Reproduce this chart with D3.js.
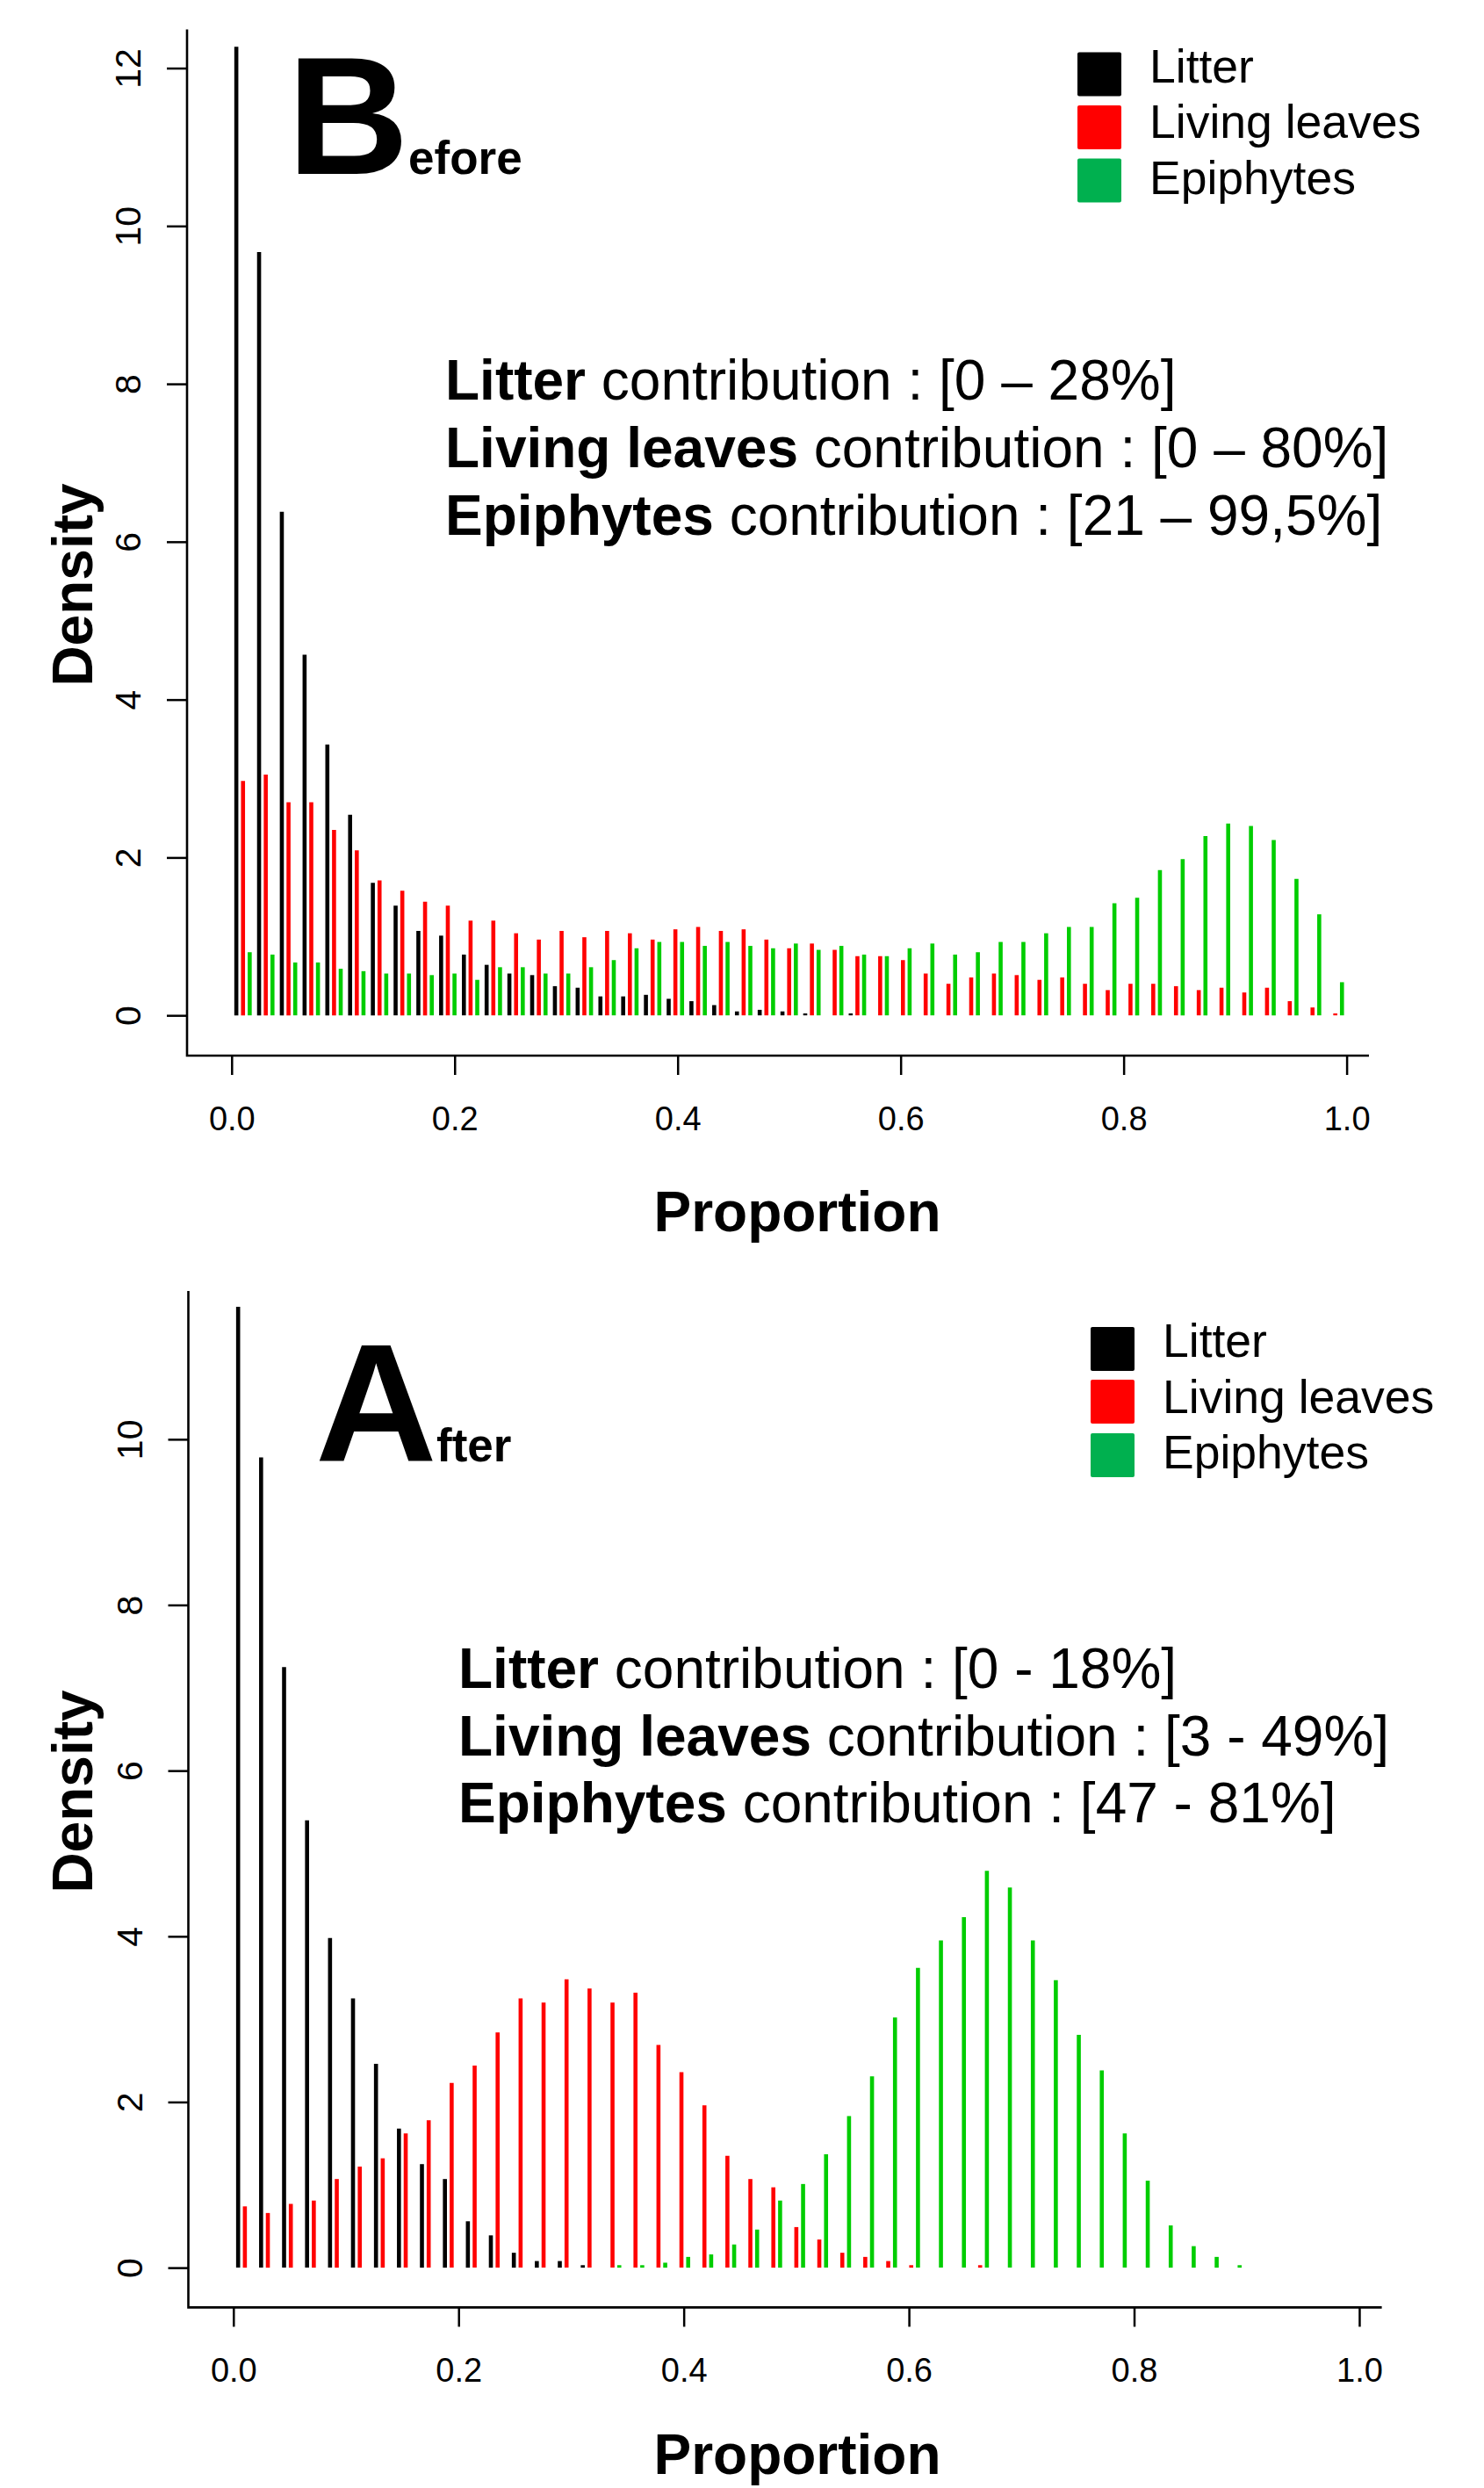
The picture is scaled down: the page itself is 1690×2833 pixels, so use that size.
<!DOCTYPE html>
<html>
<head>
<meta charset="utf-8">
<script src="https://cdn.jsdelivr.net/npm/d3@7"></script>
<style>
    html, body { margin: 0; padding: 0; background: #fff; }
    svg { display: block; font-family: "Liberation Sans", Arial, Helvetica, sans-serif; }
</style>
</head>
<body>
<div id="chart"></div>
<script>
    "use strict";

    // 49 classes de proportion entre 0 et 1
    var binCount = 49;
    var xTickValues = [0, 0.2, 0.4, 0.6, 0.8, 1.0];
    var xTickLabels = ['0.0', '0.2', '0.4', '0.6', '0.8', '1.0'];
    var yTicksBefore = [0, 2, 4, 6, 8, 10, 12];
    var yTicksAfter = [0, 2, 4, 6, 8, 10];

    var seriesNames = ['Litter', 'Living leaves', 'Epiphytes'];

    // Before
    var litterBefore = [12.27, 9.67, 6.38, 4.57, 3.43, 2.54, 1.68, 1.39, 1.07, 1.01,
        0.77, 0.64, 0.53, 0.51, 0.37, 0.35, 0.24, 0.24, 0.26, 0.21,
        0.18, 0.13, 0.05, 0.07, 0.05, 0.025, 0, 0.025, 0, 0,
        0, 0, 0, 0, 0, 0, 0, 0, 0, 0,
        0, 0, 0, 0, 0, 0, 0, 0, 0];
    var leavesBefore = [2.97, 3.05, 2.70, 2.70, 2.35, 2.09, 1.71, 1.58, 1.44, 1.39,
        1.20, 1.20, 1.04, 0.96, 1.07, 0.99, 1.07, 1.04, 0.96, 1.09,
        1.12, 1.07, 1.09, 0.96, 0.85, 0.91, 0.83, 0.75, 0.75, 0.70,
        0.53, 0.40, 0.48, 0.53, 0.51, 0.45, 0.48, 0.40, 0.32, 0.40,
        0.40, 0.37, 0.32, 0.35, 0.29, 0.35, 0.18, 0.10, 0.025];
    var epiBefore = [0.80, 0.77, 0.67, 0.67, 0.59, 0.56, 0.53, 0.53, 0.51, 0.53,
        0.45, 0.61, 0.61, 0.53, 0.53, 0.61, 0.70, 0.85, 0.93, 0.93,
        0.88, 0.93, 0.88, 0.85, 0.91, 0.83, 0.88, 0.77, 0.75, 0.85,
        0.91, 0.77, 0.80, 0.93, 0.93, 1.04, 1.12, 1.12, 1.42, 1.49,
        1.84, 1.98, 2.27, 2.43, 2.40, 2.22, 1.73, 1.28, 0.42];

    // After
    var litterAfter = [11.6, 9.78, 7.25, 5.40, 3.98, 3.25, 2.46, 1.68, 1.25, 1.07,
        0.56, 0.39, 0.18, 0.08, 0.08, 0.03, 0, 0, 0, 0,
        0, 0, 0, 0, 0, 0, 0, 0, 0, 0,
        0, 0, 0, 0, 0, 0, 0, 0, 0, 0,
        0, 0, 0, 0, 0, 0, 0, 0, 0];
    var leavesAfter = [0.74, 0.66, 0.77, 0.81, 1.07, 1.22, 1.32, 1.62, 1.78, 2.23,
        2.44, 2.84, 3.25, 3.20, 3.48, 3.37, 3.20, 3.32, 2.69, 2.36,
        1.96, 1.35, 1.07, 0.97, 0.49, 0.34, 0.18, 0.13, 0.08, 0.03,
        0, 0, 0.03, 0, 0, 0, 0, 0, 0, 0,
        0, 0, 0, 0, 0, 0, 0, 0, 0];
    var epiAfter = [0, 0, 0, 0, 0, 0, 0, 0, 0, 0,
        0, 0, 0, 0, 0, 0, 0.03, 0.03, 0.06, 0.13,
        0.16, 0.28, 0.46, 0.81, 1.01, 1.37, 1.83, 2.31, 3.02, 3.62,
        3.95, 4.23, 4.79, 4.59, 3.95, 3.47, 2.81, 2.38, 1.62, 1.05,
        0.51, 0.26, 0.13, 0.03, 0, 0, 0, 0, 0];

    var barColors = ['#000000', '#ff0000', '#00cd00'];
    var legendColors = ['#000000', '#ff0000', '#00b04f'];
    var barOffsets = [-0.006, 0, 0.006];  // décalage de chaque série dans la classe

    var svg = d3.select('#chart')
        .append('svg')
        .attr('width', 1690)
        .attr('height', 2833);

    svg.append('rect')
        .attr('width', 1690)
        .attr('height', 2833)
        .attr('fill', '#fff');

    var drawPanel = function (p) {

        var xScale = d3.scaleLinear()
            .domain([-0.04, 1.02])
            .range([p.left, p.right]);

        var yScale = d3.scaleLinear()
            .domain(p.yDomain)
            .range([p.bottom, p.top]);

        var g = svg.append('g');

        //barres (type "h")
        var series = [p.litter, p.leaves, p.epi];
        series.forEach(function (values, s) {
            g.append('g')
                .selectAll('line')
                .data(values)
                .enter()
                .append('line')
                .attr('x1', function (d, i) { return xScale((i + 0.5) / binCount + barOffsets[s]); })
                .attr('x2', function (d, i) { return xScale((i + 0.5) / binCount + barOffsets[s]); })
                .attr('y1', yScale(0))
                .attr('y2', function (d) { return yScale(d); })
                .attr('stroke', barColors[s])
                .attr('stroke-width', 4.6)
                .attr('stroke-linecap', 'butt');
        });

        //axe X
        var axisX = g.append('g')
            .attr('transform', 'translate(0,' + p.bottom + ')')
            .call(d3.axisBottom(xScale)
                .tickValues(xTickValues)
                .tickSize(22)
                .tickFormat(function (d, i) { return xTickLabels[i]; }));
        axisX.select('.domain').remove();
        axisX.selectAll('.tick line').attr('stroke', '#000').attr('stroke-width', 2.5);
        axisX.selectAll('.tick text')
            .attr('y', 85)
            .attr('dy', 0)
            .attr('fill', '#000')
            .style('font-size', '38px');

        //axe Y
        var axisY = g.append('g')
            .attr('transform', 'translate(' + p.left + ',0)')
            .call(d3.axisLeft(yScale)
                .tickValues(p.yTicks)
                .tickSize(23)
                .tickFormat(d3.format('d')));
        axisY.select('.domain').remove();
        axisY.selectAll('.tick line').attr('stroke', '#000').attr('stroke-width', 2.5);
        axisY.selectAll('.tick text')
            .attr('x', 0)
            .attr('y', 0)
            .attr('dy', 0)
            .attr('text-anchor', 'middle')
            .attr('transform', 'translate(-53,0) rotate(-90)')
            .attr('fill', '#000')
            .style('font-size', '41px');

        //cadre en L
        g.append('path')
            .attr('d', 'M' + p.left + ',' + p.top + 'V' + p.bottom + 'H' + p.right)
            .attr('fill', 'none')
            .attr('stroke', '#000')
            .attr('stroke-width', 2.6);

        //titres des axes
        g.append('text')
            .attr('transform', 'translate(105,' + p.yLabelY + ') rotate(-90)')
            .attr('text-anchor', 'middle')
            .style('font-size', '64px')
            .style('font-weight', 'bold')
            .text('Density');

        g.append('text')
            .attr('x', 908)
            .attr('y', p.xLabelY)
            .attr('text-anchor', 'middle')
            .style('font-size', '64px')
            .style('font-weight', 'bold')
            .text('Proportion');

        //grande lettre + indice
        g.append('text')
            .attr('x', p.bigX)
            .attr('y', p.bigY)
            .style('font-size', '192px')
            .style('font-weight', 'bold')
            .text(p.bigLetter);
        g.append('text')
            .attr('x', p.subX)
            .attr('y', p.bigY)
            .style('font-size', '53px')
            .style('font-weight', 'bold')
            .text(p.subText);

        //légende
        var leg = g.append('g');
        seriesNames.forEach(function (name, i) {
            leg.append('rect')
                .attr('x', p.legX)
                .attr('y', p.legBoxY[i])
                .attr('width', 50)
                .attr('height', 50)
                .attr('rx', 2)
                .attr('fill', legendColors[i]);
            leg.append('text')
                .attr('x', p.legX + 82)
                .attr('y', p.legTextY[i])
                .style('font-size', '53.5px')
                .text(name);
        });

        //contributions
        p.notes.forEach(function (n, i) {
            var t = g.append('text')
                .attr('x', p.noteX)
                .attr('y', p.noteY[i])
                .style('font-size', '64px');
            t.append('tspan').style('font-weight', 'bold').text(n[0]);
            t.append('tspan').text(' contribution : ' + n[1]);
        });
    };

    drawPanel({
        left: 213, right: 1559, top: 33.5, bottom: 1202,
        yDomain: [-0.51, 12.49],
        yTicks: yTicksBefore,
        litter: litterBefore, leaves: leavesBefore, epi: epiBefore,
        yLabelY: 666, xLabelY: 1402,
        bigLetter: 'B', subText: 'efore', bigX: 327, subX: 465, bigY: 198,
        legX: 1227, legBoxY: [59.5, 120, 180.5], legTextY: [94, 157, 221],
        noteX: 507, noteY: [455, 532, 609],
        notes: [['Litter', '[0 \u2013 28%]'], ['Living leaves', '[0 \u2013 80%]'], ['Epiphytes', '[21 \u2013 99,5%]']]
    });

    drawPanel({
        left: 214.5, right: 1573.6, top: 1470, bottom: 2627.4,
        yDomain: [-0.48, 11.79],
        yTicks: yTicksAfter,
        litter: litterAfter, leaves: leavesAfter, epi: epiAfter,
        yLabelY: 2040, xLabelY: 2817,
        bigLetter: 'A', subText: 'fter', bigX: 359, subX: 497, bigY: 1664,
        legX: 1242, legBoxY: [1511, 1571, 1632], legTextY: [1545, 1608.5, 1672],
        noteX: 522, noteY: [1922, 1999, 2075],
        notes: [['Litter', '[0 - 18%]'], ['Living leaves', '[3 - 49%]'], ['Epiphytes', '[47 - 81%]']]
    });
</script>
</body>
</html>
